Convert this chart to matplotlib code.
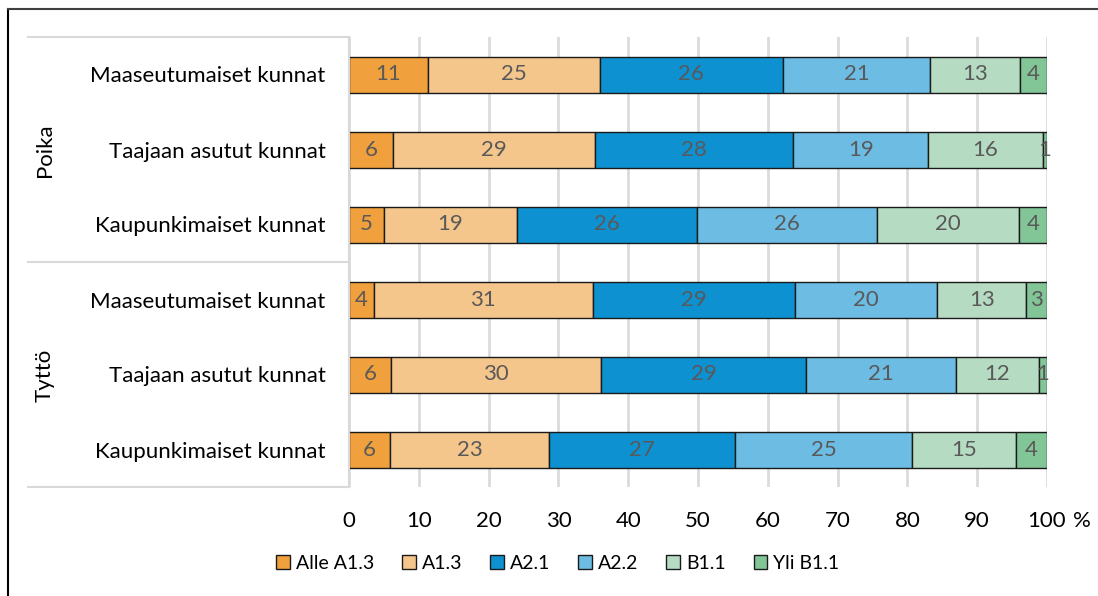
import matplotlib.pyplot as plt
from matplotlib.lines import Line2D
import numpy as np

plt.rcParams['font.family'] = ['Lato', 'DejaVu Sans']

groups = ["Poika", "Tyttö"]
areas = ["Maaseutumaiset kunnat", "Taajaan asutut kunnat", "Kaupunkimaiset kunnat"]
levels = ["Alle A1.3", "A1.3", "A2.1", "A2.2", "B1.1", "Yli B1.1"]

# shares (%) per row, rows: Poika x3 then Tyttö x3
alle_a13 = [11.3, 6.3, 5.0, 3.6, 6.0, 5.9]
a13 = [24.6, 28.9, 19.1, 31.3, 30.1, 22.8]
a21 = [26.3, 28.4, 25.7, 29.0, 29.4, 26.6]
a22 = [21.1, 19.4, 25.8, 20.4, 21.4, 25.4]
b11 = [12.8, 16.4, 20.4, 12.7, 11.9, 14.9]
yli_b11 = [3.9, 0.6, 4.0, 3.0, 1.2, 4.4]

colors = ["#F0A03C", "#F5C68C", "#0E91D0", "#6CBCE3", "#B5DCC2", "#82C698"]
fs = 16

fig = plt.figure(figsize=(10.98, 5.96), dpi=100)
ax = fig.add_axes([349 / 1098, 1 - 487 / 596, 698 / 1098, 450 / 596])

y = np.arange(6)
left = np.zeros(6)
for name, vals, c in zip(levels, [alle_a13, a13, a21, a22, b11, yli_b11], colors):
    bars = ax.barh(y, vals, left=left, height=0.48, color=c, edgecolor="#1a1a1a",
                   linewidth=1.0, label=name, zorder=2)
    ax.bar_label(bars, fmt="%.0f", label_type="center", color="#595959",
                 fontsize=fs, zorder=4)
    left += np.array(vals)

ax.set_xlim(0, 100)
ax.set_ylim(5.5, -0.5)
ax.set_xticks(range(0, 101, 10))
ax.set_xticklabels([str(v) for v in range(0, 101, 10)], fontsize=fs)
ax.tick_params(axis="x", length=0, pad=17)
ax.set_yticks(y)
ax.set_yticklabels(areas * 2, fontsize=fs)
ax.tick_params(axis="y", length=0, pad=17)
ax.grid(axis="x", color="#BFBFBF", linewidth=2, alpha=0.55, zorder=3)
for s in ["top", "right", "bottom"]:
    ax.spines[s].set_visible(False)
ax.spines["left"].set_color("#D9D9D9")
ax.spines["left"].set_linewidth(1.5)
fig.text(1082 / 1098, 1 - 521 / 596, "%", ha="center", va="center", fontsize=fs)

# group brackets on the left
for yy in [37, 262, 487]:
    fig.add_artist(Line2D([28 / 1098, 349 / 1098], [1 - yy / 596] * 2, color="#D9D9D9", lw=1.5))
for g, yy in zip(groups, [150, 375]):
    fig.text(45 / 1098, 1 - yy / 596, g, rotation=90, ha="center", va="center", fontsize=fs)

# outer frame
fig.add_artist(Line2D([8 / 1098, 8 / 1098], [0, 1 - 9 / 596], color="black", lw=1.5))
fig.add_artist(Line2D([8 / 1098, 1], [1 - 9 / 596] * 2, color="#404040", lw=1.5))

handles, labels = ax.get_legend_handles_labels()
fig.legend(handles, labels, loc="center", bbox_to_anchor=(0.508, 0.055), ncol=6,
           frameon=False, fontsize=14, handlelength=0.7, handleheight=0.7,
           handletextpad=0.3, columnspacing=1.45)

fig.savefig("out.png", dpi=100)
